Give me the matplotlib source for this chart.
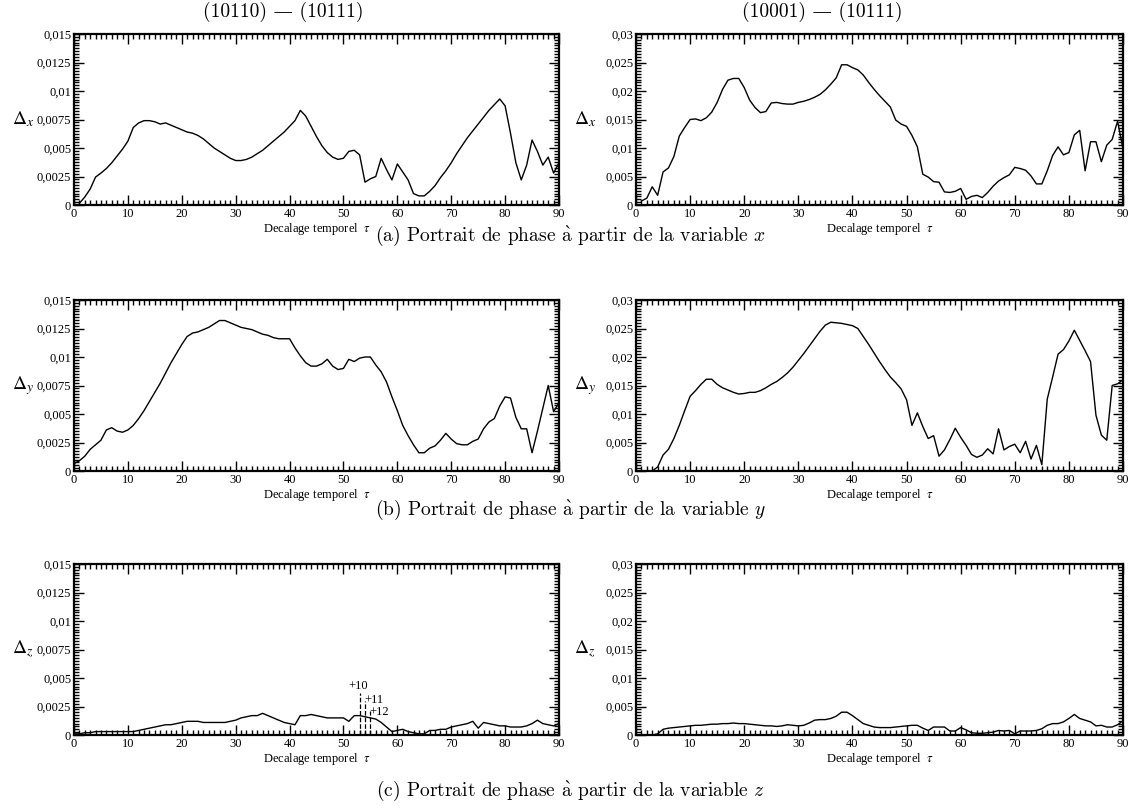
import matplotlib
matplotlib.use('Agg')
import matplotlib.pyplot as plt
from matplotlib.ticker import MultipleLocator, AutoMinorLocator, FuncFormatter

plt.rcParams['mathtext.fontset'] = 'stix'

### data ###
tau = list(range(1, 91))
tau0 = list(range(0, 91))

# (10110) - (10111), variable x
dx_left = [0.00015, 0.0007, 0.0014, 0.00245, 0.0028, 0.0032, 0.0037, 0.0043, 0.0049, 0.0056,
           0.0068, 0.0072, 0.0074, 0.0074, 0.0073, 0.0071, 0.0072, 0.0070, 0.0068, 0.0066,
           0.0064, 0.0063, 0.0061, 0.0058, 0.0054, 0.0050, 0.0047, 0.0044, 0.0041, 0.0039,
           0.0039, 0.0040, 0.0042, 0.0045, 0.0048, 0.0052, 0.0056, 0.0060, 0.0064, 0.0069,
           0.0074, 0.0083, 0.0078, 0.0069, 0.0060, 0.0052, 0.0046, 0.0042, 0.0040, 0.0041,
           0.0047, 0.0048, 0.0044, 0.0020, 0.0023, 0.0025, 0.0041, 0.0031, 0.0022, 0.0036,
           0.0029, 0.0022, 0.0010, 0.0008, 0.0008, 0.0012, 0.0017, 0.0024, 0.0030, 0.0037,
           0.0045, 0.0052, 0.0059, 0.0065, 0.0071, 0.0077, 0.0083, 0.0088, 0.0093, 0.0087,
           0.0063, 0.0037, 0.0022, 0.0035, 0.0057, 0.0047, 0.0035, 0.0042, 0.0028, 0.0037]

# (10001) - (10111), variable x
dx_right = [0.0007, 0.0012, 0.0032, 0.0017, 0.0058, 0.0065, 0.0085, 0.0121, 0.0136, 0.0150,
            0.0151, 0.0148, 0.0153, 0.0163, 0.0180, 0.0203, 0.0219, 0.0222, 0.0222, 0.0206,
            0.0184, 0.0171, 0.0162, 0.0164, 0.0179, 0.0180, 0.0178, 0.0177, 0.0177, 0.0180,
            0.0182, 0.0185, 0.0189, 0.0194, 0.0202, 0.0212, 0.0223, 0.0246, 0.0246, 0.0241,
            0.0237, 0.0228, 0.0215, 0.0203, 0.0192, 0.0182, 0.0172, 0.0149, 0.0142, 0.0138,
            0.0122, 0.0102, 0.0054, 0.0049, 0.0041, 0.0040, 0.0023, 0.0022, 0.0024, 0.0029,
            0.0010, 0.0015, 0.0017, 0.0013, 0.0022, 0.0033, 0.0042, 0.0048, 0.0053, 0.0066,
            0.0064, 0.0061, 0.0051, 0.0037, 0.0037, 0.0060, 0.0087, 0.0102, 0.0088, 0.0092,
            0.0123, 0.0131, 0.0060, 0.0111, 0.0111, 0.0076, 0.0105, 0.0115, 0.0147, 0.0098]

# (10110) - (10111), variable y
dy_left = [0.00065, 0.0009, 0.0013, 0.0019, 0.0023, 0.0027, 0.0036, 0.0038, 0.0035, 0.0034,
           0.0036, 0.0040, 0.0046, 0.0053, 0.0061, 0.0069, 0.0077, 0.0086, 0.0095, 0.0103,
           0.0111, 0.0118, 0.0121, 0.0122, 0.0124, 0.0126, 0.0129, 0.0132, 0.0132, 0.0130,
           0.0128, 0.0126, 0.0125, 0.0124, 0.0122, 0.0120, 0.0119, 0.0117, 0.0116, 0.0116,
           0.0116, 0.0108, 0.0101, 0.0095, 0.0092, 0.0092, 0.0094, 0.0098, 0.0092, 0.0089,
           0.0090, 0.0098, 0.0096, 0.0099, 0.0100, 0.0100, 0.0093, 0.0087, 0.0078, 0.0065,
           0.0053, 0.0040, 0.0031, 0.0023, 0.0016, 0.0016, 0.0020, 0.0022, 0.0027, 0.0033,
           0.0028, 0.0024, 0.0023, 0.0023, 0.0026, 0.0028, 0.0037, 0.0043, 0.0046, 0.0057,
           0.0065, 0.0064, 0.0047, 0.0037, 0.0037, 0.0016, 0.0035, 0.0055, 0.0075, 0.0052,
           0.0060]

# (10001) - (10111), variable y
dy_right = [0.0, 0.0, 0.0, 0.0007, 0.0028, 0.0038, 0.0057, 0.0080, 0.0106, 0.0131,
            0.0141, 0.0152, 0.0161, 0.0161, 0.0152, 0.0146, 0.0142, 0.0138, 0.0135, 0.0136,
            0.0138, 0.0138, 0.0141, 0.0146, 0.0152, 0.0157, 0.0164, 0.0172, 0.0182, 0.0194,
            0.0206, 0.0219, 0.0232, 0.0245, 0.0256, 0.0261, 0.0260, 0.0259, 0.0257, 0.0255,
            0.0250, 0.0236, 0.0222, 0.0207, 0.0192, 0.0178, 0.0165, 0.0155, 0.0144, 0.0125,
            0.0080, 0.0102, 0.0078, 0.0057, 0.0062, 0.0026, 0.0037, 0.0055, 0.0075, 0.0059,
            0.0045, 0.0029, 0.0024, 0.0028, 0.0039, 0.0030, 0.0074, 0.0037, 0.0043, 0.0047,
            0.0032, 0.0052, 0.0021, 0.0045, 0.0011, 0.0126, 0.0165, 0.0205, 0.0213, 0.0228,
            0.0247, 0.0229, 0.0211, 0.0192, 0.0098, 0.0063, 0.0054, 0.0150, 0.0153, 0.0160]

# (10110) - (10111), variable z
dz_left = [0.0001, 0.0001, 0.0002, 0.0002, 0.0003, 0.0003, 0.0003, 0.0003, 0.0003, 0.0003,
           0.0003, 0.0003, 0.0004, 0.0005, 0.0006, 0.0007, 0.0008, 0.0009, 0.0009, 0.0010,
           0.0011, 0.0012, 0.0012, 0.0012, 0.0011, 0.0011, 0.0011, 0.0011, 0.0011, 0.0012,
           0.0013, 0.0015, 0.0016, 0.0017, 0.0017, 0.0019, 0.0017, 0.0015, 0.0013, 0.0011,
           0.0010, 0.0009, 0.0017, 0.0017, 0.0018, 0.0017, 0.0016, 0.0015, 0.0015, 0.0015,
           0.0015, 0.0012, 0.0017, 0.0017, 0.0016, 0.0015, 0.0014, 0.0011, 0.0007, 0.0003,
           0.0004, 0.0005, 0.0003, 0.0002, 0.0001, 0.0001, 0.0004, 0.0004, 0.0005, 0.0005,
           0.0007, 0.0008, 0.0009, 0.0010, 0.0012, 0.0006, 0.0011, 0.0010, 0.0009, 0.0008,
           0.0008, 0.0007, 0.0007, 0.0007, 0.0008, 0.0010, 0.0013, 0.0010, 0.0009, 0.0008,
           0.0010]

# (10001) - (10111), variable z
dz_right = [0.0, 0.0, 0.0, 0.0002, 0.0010, 0.0012, 0.0013, 0.0014, 0.0015, 0.0016,
            0.0017, 0.0017, 0.0018, 0.0019, 0.0019, 0.0020, 0.0020, 0.0021, 0.0020, 0.0020,
            0.0019, 0.0018, 0.0017, 0.0016, 0.0016, 0.0015, 0.0016, 0.0018, 0.0017, 0.0016,
            0.0017, 0.0021, 0.0026, 0.0027, 0.0027, 0.0029, 0.0033, 0.0040, 0.0040, 0.0034,
            0.0027, 0.0020, 0.0017, 0.0014, 0.0013, 0.0013, 0.0013, 0.0014, 0.0015, 0.0016,
            0.0017, 0.0017, 0.0012, 0.0008, 0.0014, 0.0014, 0.0014, 0.0007, 0.0007, 0.0013,
            0.0009, 0.0004, 0.0003, 0.0003, 0.0004, 0.0005, 0.0008, 0.0007, 0.0008, 0.0002,
            0.0007, 0.0007, 0.0007, 0.0008, 0.0011, 0.0017, 0.0020, 0.0020, 0.0023, 0.0029,
            0.0036, 0.0029, 0.0026, 0.0023, 0.0016, 0.0017, 0.0014, 0.0014, 0.0018, 0.0025]

# dashed markers in panel (c) left
mark_x = [53, 54, 55]
mark_top = [0.0037, 0.0030, 0.0021]
mark_lbl = ['+10', '+11', '+12']

titles = ['(10110) \u2014 (10111)', '(10001) \u2014 (10111)']
captions = [r'(a) Portrait de phase $\grave{\mathrm{a}}$ partir de la variable $x$',
            r'(b) Portrait de phase $\grave{\mathrm{a}}$ partir de la variable $y$',
            r'(c) Portrait de phase $\grave{\mathrm{a}}$ partir de la variable $z$']

W, H = 1141, 809
fig = plt.figure(figsize=(W / 100, H / 100), dpi=100)

cols = [(74, 559), (636, 1123)]
rows = [(34, 205), (300, 471), (564, 735)]

def comma(v, pos):
    s = '%g' % v
    return s.replace('.', ',')

tick_font = {'family': 'Liberation Serif', 'size': 9}

series = [[(tau, dx_left), (tau, dx_right)],
          [(tau0, dy_left), (tau, dy_right)],
          [(tau0, dz_left), (tau, dz_right)]]
ylims = [0.015, 0.03]
ymaj = [0.0025, 0.005]
names = ['x', 'y', 'z']

for r, (top, bot) in enumerate(rows):
    for c, (l, rr) in enumerate(cols):
        ax = fig.add_axes([l / W, 1 - bot / H, (rr - l) / W, (bot - top) / H])
        xs, ys = series[r][c]
        ax.plot(xs, ys, color='black', lw=1.0)
        ax.set_xlim(0, 90)
        ax.set_ylim(0, ylims[c])
        ax.xaxis.set_major_locator(MultipleLocator(10))
        ax.xaxis.set_minor_locator(MultipleLocator(1))
        ax.yaxis.set_major_locator(MultipleLocator(ymaj[c]))
        ax.yaxis.set_minor_locator(AutoMinorLocator(10))
        ax.yaxis.set_major_formatter(FuncFormatter(comma))
        ax.tick_params(which='both', direction='in', top=True, right=True, width=1.0)
        ax.tick_params(which='major', length=7, pad=2)
        ax.tick_params(which='minor', length=3.5)
        for lab in ax.get_xticklabels() + ax.get_yticklabels():
            lab.set_fontproperties(tick_font)
        for sp in ax.spines.values():
            sp.set_linewidth(1.6)
        ax.set_xlabel(r'Decalage temporel  $\tau$', family='Liberation Serif',
                      fontsize=9, labelpad=1)
        ax.text(-0.105, 0.5, r'$\Delta_{%s}$' % names[r], transform=ax.transAxes,
                fontsize=14, ha='center', va='center')
        if r == 0:
            fig.text((283 if c == 0 else 822) / W, 1 - 12 / H, titles[c],
                     family=['cmr10', 'DejaVu Serif'], fontsize=14,
                     ha='center', va='center')
        if r == 2 and c == 0:
            for xm, yt in zip(mark_x, mark_top):
                ax.vlines(xm, 0, yt, colors='black', linestyles='--', lw=0.9)
            ax.text(mark_x[0] - 0.3, mark_top[0] + 0.0006, mark_lbl[0],
                    family='Liberation Serif', fontsize=9, ha='center', va='center')
            ax.text(mark_x[1] - 0.1, mark_top[1] + 0.00005, mark_lbl[1],
                    family='Liberation Serif', fontsize=9, ha='left', va='center')
            ax.text(mark_x[2] - 0.2, mark_top[2] - 0.0001, mark_lbl[2],
                    family='Liberation Serif', fontsize=9, ha='left', va='center')

cap_y = [236, 510, 791]
for cy, txt in zip(cap_y, captions):
    fig.text(0.5, 1 - cy / H, txt, family='cmr10', fontsize=14,
             ha='center', va='center', math_fontfamily='cm')

plt.savefig('out.png', dpi=100)
